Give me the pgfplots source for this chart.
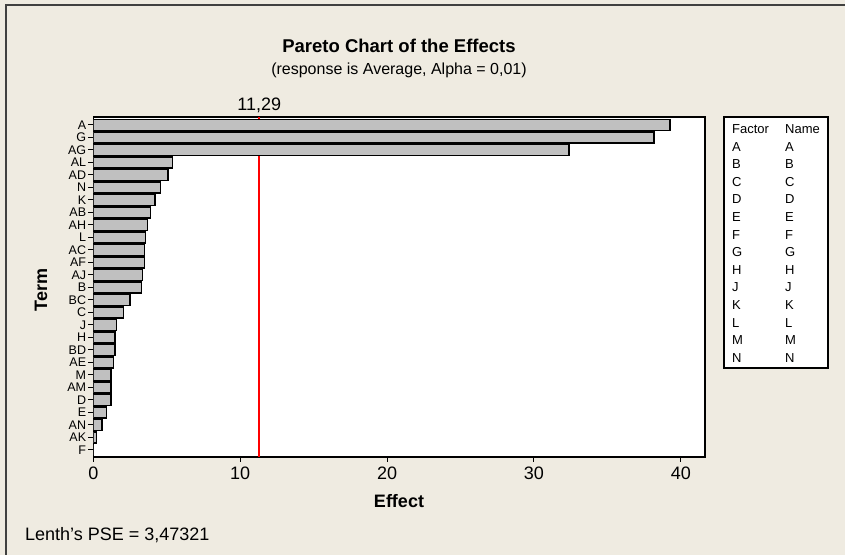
\documentclass[border=0pt]{standalone}
\usepackage{pgfplots}
\pgfplotsset{compat=1.18}
\usepackage{fontspec}
\setmainfont{Liberation Sans}
\definecolor{bgc}{RGB}{239,235,225}
\definecolor{barc}{RGB}{192,192,192}
\definecolor{refred}{RGB}{255,0,0}
\begin{document}
\begin{tikzpicture}[x=1bp,y=1bp]
\fill[bgc] (0,0) rectangle (845,555);
\path[use as bounding box] (0,0) rectangle (845,555);
\draw[line width=1.5bp, black!75] (6,0) -- (6,550) -- (845,550);
\begin{axis}[at={(93.3bp,98bp)}, anchor=south west, scale only axis,
  width=611.7bp, height=340bp,
  xmin=0, xmax=41.65, ymin=-0.56, ymax=26.64,
  axis background/.style={fill=white},
  xtick={0,10,20,30,40},
  ytick={0,...,26},
  yticklabels={F,AK,AN,E,D,AM,M,AE,BD,H,J,C,BC,B,AJ,AF,AC,L,AH,AB,K,N,AD,AL,AG,G,A},
  tick align=outside, xtick pos=bottom, ytick pos=left, major tick length=5bp,
  tick style={line width=1bp, black},
  axis line style={line width=1.3bp},
  /pgf/number format/assume math mode=true,
  xticklabel style={font=\fontsize{18bp}{18bp}\selectfont, yshift=-1bp},
  yticklabel style={font=\fontsize{12.5bp}{12.5bp}\selectfont, inner sep=1bp, xshift=-1bp},
]
\addplot[draw=refred, line width=1.6bp, mark=none] coordinates {(11.29,-0.56) (11.29,26.64)};
\addplot[xbar, bar width=0.86, fill=barc, draw=black, line width=1.3bp] coordinates {
(0.03,0) (0.2,1) (0.59,2) (0.89,3) (1.2,4) (1.2,5) (1.2,6) (1.39,7) (1.48,8) (1.48,9)
(1.59,10) (2.06,11) (2.5,12) (3.29,13) (3.36,14) (3.48,15) (3.48,16) (3.57,17) (3.68,18)
(3.89,19) (4.2,20) (4.59,21) (5.09,22) (5.38,23) (32.39,24) (38.18,25) (39.27,26)};
\end{axis}
\node[font=\fontsize{18.5bp}{18.5bp}\selectfont\bfseries] at (399,555-46) {Pareto Chart of the Effects};
\node[font=\fontsize{16bp}{16bp}\selectfont] at (399,555-70) {(response is Average, Alpha = 0,01)};
\node[font=\fontsize{18bp}{18bp}\selectfont] at (259.3,555-105) {11,29};
\node[font=\fontsize{18bp}{18bp}\selectfont\bfseries] at (399,555-501) {Effect};
\node[font=\fontsize{18bp}{18bp}\selectfont\bfseries, rotate=90] at (41,555-290) {Term};
\node[font=\fontsize{18bp}{18bp}\selectfont, anchor=west, inner sep=0pt] at (25,555-535) {Lenth's PSE = 3,47321};
\draw[fill=white, line width=1.3bp] (724,555-117) rectangle (828,555-368);
\node[font=\fontsize{13bp}{13bp}\selectfont, anchor=west, inner sep=0pt] at (732,555-129) {Factor};
\node[font=\fontsize{13bp}{13bp}\selectfont, anchor=west, inner sep=0pt] at (785,555-129) {Name};
\foreach \l [count=\i] in {A,B,C,D,E,F,G,H,J,K,L,M,N} {
  \node[font=\fontsize{13bp}{13bp}\selectfont, anchor=west, inner sep=0pt] at (732,555-129-17.6*\i) {\l};
  \node[font=\fontsize{13bp}{13bp}\selectfont, anchor=west, inner sep=0pt] at (785,555-129-17.6*\i) {\l};
}
\end{tikzpicture}
\end{document}
